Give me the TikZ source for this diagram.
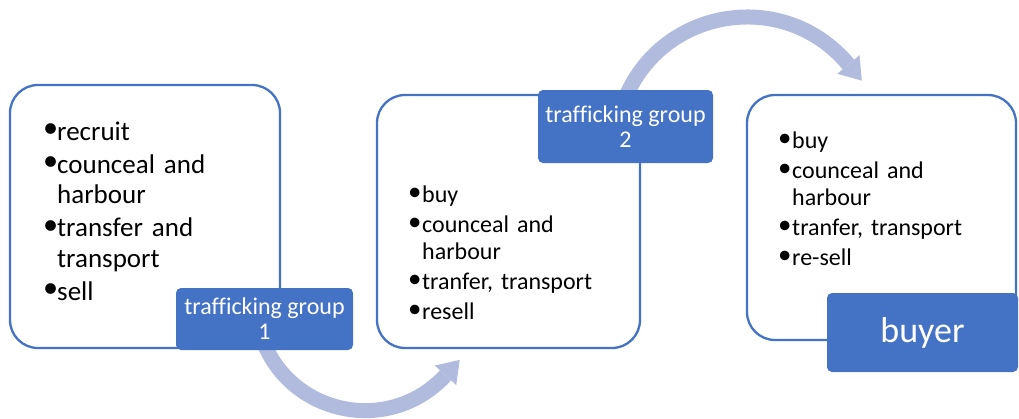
\documentclass[tikz,border=0pt]{standalone}
\usepackage{fontspec}
\usepackage{graphicx}
\setmainfont{Carlito}[Ligatures=NoCommon]
\definecolor{myblue}{HTML}{4472C4}
\definecolor{arrowc}{HTML}{B0BBDE}
\newcommand\bul[1]{\makebox[10pt][l]{\hspace{-4pt}\raisebox{0.08em}{\scalebox{1.12}{•}}}#1}
\newcommand\hang[1]{\hspace*{10pt}#1}
\begin{document}
\begin{tikzpicture}[x=1pt,y=-1pt,
  box/.style={draw=myblue, line width=2.3pt, rounded corners=28pt, fill=white, inner sep=0pt},
  tag/.style={fill=myblue, rounded corners=5pt, text=white, align=center, inner sep=0pt},
  listtext/.style={anchor=base west, inner sep=0pt, text width=230pt, align=left},
  flow/.style={draw=arrowc, line width=15pt},
  head/.style={fill=arrowc, draw=none}]
\useasboundingbox (0,0) rectangle (1019,418);

% curved arrows (behind everything)
\coordinate (a1s) at (262.1,338.5);
\coordinate (a1e) at (445.5,375.3);
\draw[flow] (a1s) .. controls (290.1,415.6) and (389.9,435.6) .. (a1e);
\fill[head] (456.2,385.1) -- (459.7,359.9) -- (434.8,365.5) -- cycle;

\coordinate (a2s) at (623.0,103.9);
\coordinate (a2e) at (848.4,64.5);
\draw[flow] (a2s) .. controls (657.8,8.2) and (783.2,-13.7) .. (a2e);
\fill[head] (859.5,55.2) -- (861.8,80.6) -- (837.3,73.8) -- cycle;

% boxes
\node[box, minimum width=270pt, minimum height=263pt] (b1) at (145,216.5) {};
\node[box, minimum width=263pt, minimum height=253pt] (b2) at (508.5,221.5) {};
\node[box, minimum width=269pt, minimum height=245pt] (b3) at (881.5,217.5) {};

% lists
\node[listtext, font=\fontsize{27}{30.5}\selectfont] (t1) at (47,140) {%
  \bul{recruit}\\[2.5pt]
  \bul{counceal and}\\
  \hang{harbour}\\[2.5pt]
  \bul{transfer and}\\
  \hang{transport}\\[2.5pt]
  \bul{sell}};
\node[listtext, font=\fontsize{24}{27}\selectfont] (t2) at (412,202) {%
  \bul{buy}\\[3pt]
  \bul{counceal and}\\
  \hang{harbour}\\[3pt]
  \bul{tranfer, transport}\\[3pt]
  \bul{resell}};
\node[listtext, font=\fontsize{24}{27}\selectfont] (t3) at (782,148) {%
  \bul{buy}\\[3pt]
  \bul{counceal and}\\
  \hang{harbour}\\[3pt]
  \bul{tranfer, transport}\\[3pt]
  \bul{re-sell}};

% tags
\node[tag, minimum width=177pt, minimum height=62pt, font=\fontsize{24}{25}\selectfont] (g1) at (264.5,319) {trafficking group\\1};
\node[tag, minimum width=175pt, minimum height=73pt, font=\fontsize{24}{25}\selectfont] (g2) at (625.5,126.5) {trafficking group\\2};
\node[tag, minimum width=191pt, minimum height=79pt, font=\fontsize{36}{40}\selectfont] (g3) at (922.5,332.5) {buyer};
\end{tikzpicture}
\end{document}
